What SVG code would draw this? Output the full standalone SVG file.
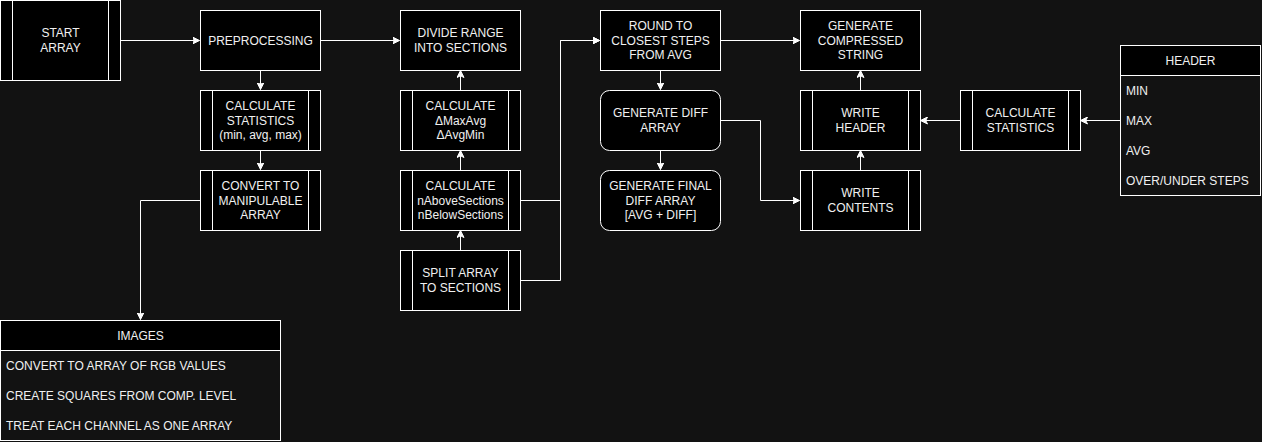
<svg xmlns="http://www.w3.org/2000/svg" width="1262" height="442" viewBox="0 0 1262 442">
<style>
.bg{fill:#121212}
.n{fill:#000;stroke:#fff;stroke-width:1}
.b{fill:none;stroke:#fff;stroke-width:1}
.e{fill:none;stroke:#fff;stroke-width:1}
text{font-family:"Liberation Sans",Arial,sans-serif;font-size:12px;fill:#f0f0f0}
.c{text-anchor:middle}
</style>
<defs>
<marker id="a" markerWidth="8" markerHeight="8" refX="7" refY="4" orient="auto" markerUnits="userSpaceOnUse">
<path d="M0,0.5 L7,4 L0,7.5 L1.75,4 Z" fill="#fff" stroke="#fff" stroke-width="1"/>
</marker>
</defs>
<rect class="bg" x="0" y="0" width="1262" height="442"/>

<g id="connectors">
<path class="e" d="M120.5,40.5 H199.5" marker-end="url(#a)"/>
<path class="e" d="M320.5,40.5 H399.5" marker-end="url(#a)"/>
<path class="e" d="M260.5,70.5 V89.5" marker-end="url(#a)"/>
<path class="e" d="M260.5,150.5 V169.5" marker-end="url(#a)"/>
<path class="e" d="M200.5,200.5 H140.5 V319.5" marker-end="url(#a)"/>
<path class="e" d="M460.5,250.5 V230.5" marker-end="url(#a)"/>
<path class="e" d="M460.5,170.5 V150.5" marker-end="url(#a)"/>
<path class="e" d="M460.5,90.5 V70.5" marker-end="url(#a)"/>
<path class="e" d="M520.5,200.5 H560.5 V40.5 H599.5" marker-end="url(#a)"/>
<path class="e" d="M520.5,280.5 H560.5 V40.5 H599.5" marker-end="url(#a)"/>
<path class="e" d="M660.5,70.5 V89.5" marker-end="url(#a)"/>
<path class="e" d="M660.5,150.5 V169.5" marker-end="url(#a)"/>
<path class="e" d="M720.5,40.5 H799.5" marker-end="url(#a)"/>
<path class="e" d="M720.5,120.5 H760.5 V200.5 H799.5" marker-end="url(#a)"/>
<path class="e" d="M860.5,170.5 V150.5" marker-end="url(#a)"/>
<path class="e" d="M860.5,90.5 V70.5" marker-end="url(#a)"/>
<path class="e" d="M960.5,120.5 H920.5" marker-end="url(#a)"/>
<path class="e" d="M1120.5,120.5 H1080.5" marker-end="url(#a)"/>
</g>

<g id="start-array">
<rect class="n" x="0.5" y="0.5" width="120" height="80"/>
<path class="b" d="M12.5,0.5 V80.5 M108.5,0.5 V80.5"/>
<text class="c" x="60.5" y="37">START</text>
<text class="c" x="60.5" y="52">ARRAY</text>
</g>

<g id="preprocessing">
<rect class="n" x="200.5" y="10.5" width="120" height="60"/>
<text class="c" x="260.5" y="44.5">PREPROCESSING</text>
</g>

<g id="calc-stats">
<rect class="n" x="200.5" y="90.5" width="120" height="60"/>
<path class="b" d="M212.5,90.5 V150.5 M308.5,90.5 V150.5"/>
<text class="c" x="260.5" y="110">CALCULATE</text>
<text class="c" x="260.5" y="124.5">STATISTICS</text>
<text class="c" x="260.5" y="139">(min, avg, max)</text>
</g>

<g id="convert">
<rect class="n" x="200.5" y="170.5" width="120" height="60"/>
<path class="b" d="M212.5,170.5 V230.5 M308.5,170.5 V230.5"/>
<text class="c" x="260.5" y="190">CONVERT TO</text>
<text class="c" x="260.5" y="204.5">MANIPULABLE</text>
<text class="c" x="260.5" y="219">ARRAY</text>
</g>

<g id="images">
<rect class="n" x="0.5" y="320.5" width="280" height="30"/>
<rect class="b" x="0.5" y="320.5" width="280" height="120"/>
<text class="c" x="140.5" y="339.5">IMAGES</text>
<text x="6" y="369.5">CONVERT TO ARRAY OF RGB VALUES</text>
<text x="6" y="399.5">CREATE SQUARES FROM COMP. LEVEL</text>
<text x="6" y="429.5">TREAT EACH CHANNEL AS ONE ARRAY</text>
</g>

<g id="divide-range">
<rect class="n" x="400.5" y="10.5" width="120" height="60"/>
<text class="c" x="460.5" y="37">DIVIDE RANGE</text>
<text class="c" x="460.5" y="52">INTO SECTIONS</text>
</g>

<g id="calc-delta">
<rect class="n" x="400.5" y="90.5" width="120" height="60"/>
<path class="b" d="M412.5,90.5 V150.5 M508.5,90.5 V150.5"/>
<text class="c" x="460.5" y="110">CALCULATE</text>
<text class="c" x="460.5" y="124.5">ΔMaxAvg</text>
<text class="c" x="460.5" y="139">ΔAvgMin</text>
</g>

<g id="calc-sections">
<rect class="n" x="400.5" y="170.5" width="120" height="60"/>
<path class="b" d="M412.5,170.5 V230.5 M508.5,170.5 V230.5"/>
<text class="c" x="460.5" y="190">CALCULATE</text>
<text class="c" x="460.5" y="204.5">nAboveSections</text>
<text class="c" x="460.5" y="219">nBelowSections</text>
</g>

<g id="split-array">
<rect class="n" x="400.5" y="250.5" width="120" height="60"/>
<path class="b" d="M412.5,250.5 V310.5 M508.5,250.5 V310.5"/>
<text class="c" x="460.5" y="277">SPLIT ARRAY</text>
<text class="c" x="460.5" y="292">TO SECTIONS</text>
</g>

<g id="round">
<rect class="n" x="600.5" y="10.5" width="120" height="60"/>
<text class="c" x="660.5" y="30">ROUND TO</text>
<text class="c" x="660.5" y="44.5">CLOSEST STEPS</text>
<text class="c" x="660.5" y="59">FROM AVG</text>
</g>

<g id="diff-array">
<rect class="n" x="600.5" y="90.5" width="120" height="60" rx="9" ry="9"/>
<text class="c" x="660.5" y="117">GENERATE DIFF</text>
<text class="c" x="660.5" y="132">ARRAY</text>
</g>

<g id="final-diff">
<rect class="n" x="600.5" y="170.5" width="120" height="60" rx="9" ry="9"/>
<text class="c" x="660.5" y="190">GENERATE FINAL</text>
<text class="c" x="660.5" y="204.5">DIFF ARRAY</text>
<text class="c" x="660.5" y="219">[AVG + DIFF]</text>
</g>

<g id="compressed">
<rect class="n" x="800.5" y="10.5" width="120" height="60"/>
<text class="c" x="860.5" y="30">GENERATE</text>
<text class="c" x="860.5" y="44.5">COMPRESSED</text>
<text class="c" x="860.5" y="59">STRING</text>
</g>

<g id="write-header">
<rect class="n" x="800.5" y="90.5" width="120" height="60"/>
<path class="b" d="M812.5,90.5 V150.5 M908.5,90.5 V150.5"/>
<text class="c" x="860.5" y="117">WRITE</text>
<text class="c" x="860.5" y="132">HEADER</text>
</g>

<g id="write-contents">
<rect class="n" x="800.5" y="170.5" width="120" height="60"/>
<path class="b" d="M812.5,170.5 V230.5 M908.5,170.5 V230.5"/>
<text class="c" x="860.5" y="197">WRITE</text>
<text class="c" x="860.5" y="212">CONTENTS</text>
</g>

<g id="calc-stats-2">
<rect class="n" x="960.5" y="90.5" width="120" height="60"/>
<path class="b" d="M972.5,90.5 V150.5 M1068.5,90.5 V150.5"/>
<text class="c" x="1020.5" y="117">CALCULATE</text>
<text class="c" x="1020.5" y="132">STATISTICS</text>
</g>

<g id="header">
<rect class="n" x="1120.5" y="45.5" width="140" height="30"/>
<rect class="b" x="1120.5" y="45.5" width="140" height="150"/>
<text class="c" x="1190.5" y="64.5">HEADER</text>
<text x="1126" y="94.5">MIN</text>
<text x="1126" y="124.5">MAX</text>
<text x="1126" y="154.5">AVG</text>
<text x="1126" y="184.5">OVER/UNDER STEPS</text>
</g>
</svg>
